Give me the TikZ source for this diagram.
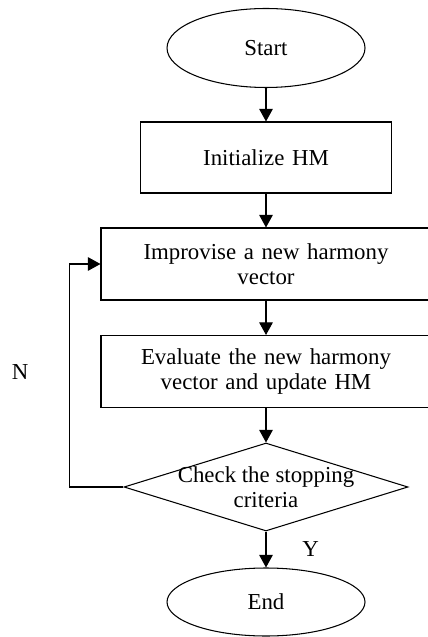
\documentclass[tikz,border=0pt]{standalone}
\usepackage{fontspec}
\setmainfont{Liberation Serif}
\usetikzlibrary{shapes.geometric, arrows.meta}
\usetikzlibrary{calc}
\tikzset{startstop/.style = {ellipse, line width=0.6pt, minimum width=3.96cm, minimum height=1.58cm, text centered, draw=black}}
\tikzset{block/.style = {rectangle, line width=0.6pt, minimum width=4.96cm, minimum height=1.42cm, text centered, text width=4.8cm, draw=black}}
\tikzset{wideblock/.style = {block, minimum width=6.6cm, minimum height=1.44cm, text width=6.2cm}}
\tikzset{decision/.style = {diamond, line width=0.6pt, minimum width=5.68cm, minimum height=1.76cm, inner sep=0pt, draw=black}}
\tikzset{arrow/.style = {line width=0.6pt,-{Triangle[length=0.25cm,width=0.27cm]}}}

\begin{document}
\begin{tikzpicture}[node distance=2.15cm, font=\fontsize{13}{14.5}\selectfont]
	\useasboundingbox (0,0) rectangle (8.54,-12.74);
	\node (start) 	[startstop] at (5.32,-0.96)					{Start};
	\node (init) 	[block, below of=start, yshift=-0.04cm] 		{Initialize HM};
	\node (impr)	[wideblock, below of=init, yshift=0.02cm] 		{Improvise a new harmony\\vector};
	\node (eval) 	[wideblock, below of=impr] 					{Evaluate the new harmony\\vector and update HM};
	\node (check) 	[decision, below of=eval, yshift=-0.16cm] 	{};
	\node (checktext) [align=center] at (check.center)			{Check the stopping\\criteria};
	\node (stop) 	[startstop, below of=check, yshift=-0.15cm, minimum height=1.36cm] {End};
	\node (nlabel) 	at (0.4,-7.44)								{N};
	
	\draw [arrow] (start) 	-- (init);
	\draw [arrow] (init) 	-- (impr);
	\draw [arrow] (impr) 	-- (eval);
	\draw [arrow] (eval) 	-- (check);
	\draw [arrow] (check) 	-- node[right, xshift=0.6cm] {Y} 	(stop);
	
	\draw [arrow] (check.west) -- ++(-1.08,0) |- (impr.west);
\end{tikzpicture}
\end{document}
